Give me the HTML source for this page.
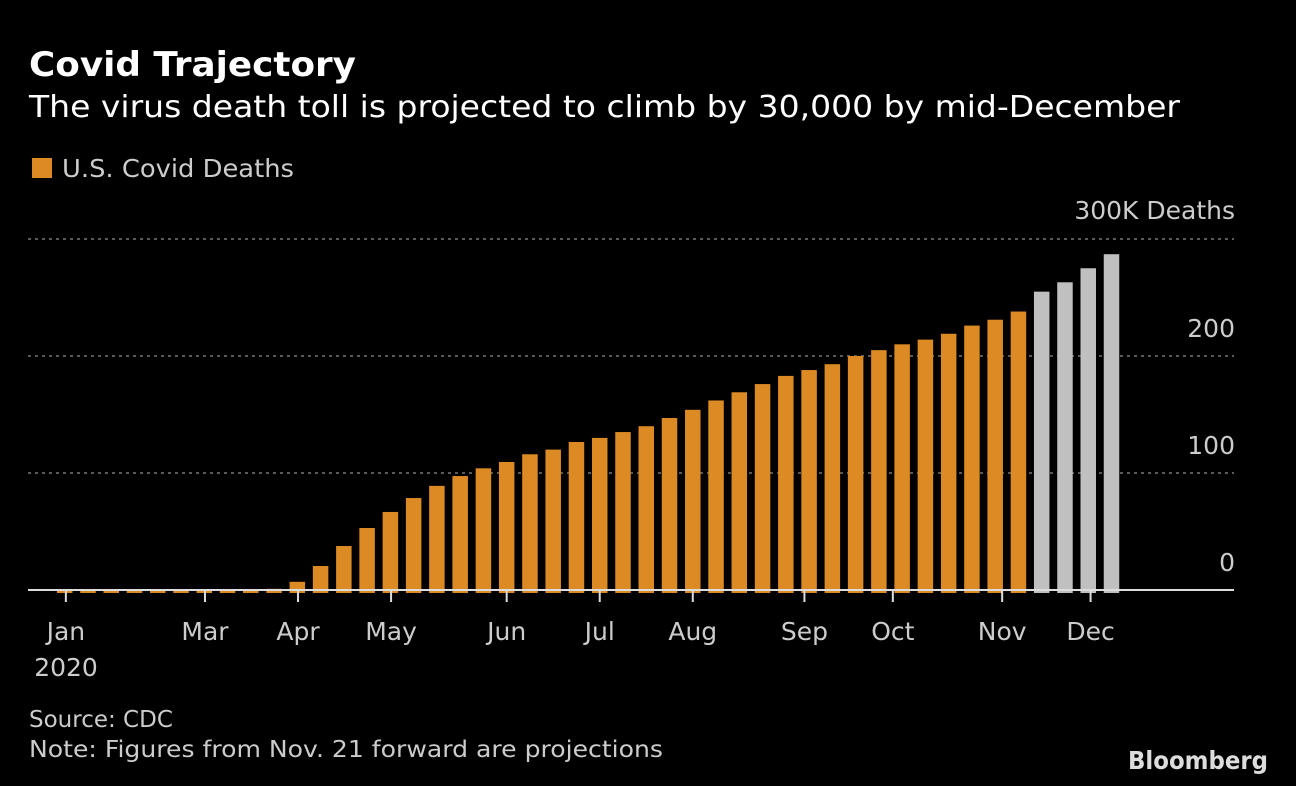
<!DOCTYPE html>
<html><head><meta charset="utf-8"><style>
html,body{margin:0;padding:0;background:#000;}
svg{display:block;font-family:"DejaVu Sans","Liberation Sans",sans-serif;}
</style></head><body>
<svg id="chart" width="1296" height="786" viewBox="0 0 1296 786">
<rect width="1296" height="786" fill="#000"/>
<text x="29" y="76" font-size="34" font-weight="bold" fill="#fff" textLength="327" lengthAdjust="spacingAndGlyphs">Covid Trajectory</text>
<text x="29" y="117" font-size="30" fill="#fff" textLength="1151" lengthAdjust="spacingAndGlyphs">The virus death toll is projected to climb by 30,000 by mid-December</text>
<rect x="32" y="158" width="20" height="20" fill="#dc8a24"/>
<text x="62" y="177" font-size="25" fill="#ccc" textLength="232" lengthAdjust="spacingAndGlyphs">U.S. Covid Deaths</text>
<text x="1235" y="219" font-size="25" fill="#ccc" text-anchor="end">300K Deaths</text>
<g id="grid"></g><g id="bars"></g><g id="xaxis"></g>
<text x="29" y="727" font-size="23" fill="#ccc">Source: CDC</text>
<text x="29" y="757" font-size="23" fill="#ccc" textLength="634" lengthAdjust="spacingAndGlyphs">Note: Figures from Nov. 21 forward are projections</text>
<text x="1268" y="769" font-size="25" font-weight="bold" fill="#ddd" text-anchor="end" textLength="140" lengthAdjust="spacingAndGlyphs">Bloomberg</text>
</svg>
<script>
const actualDeaths = [0.3,0.3,0.3,0.3,0.3,0.3,0.3,0.3,0.3,1,7,20.5,37.6,53,66.7,78.6,89,97.4,104,109.4,116,120,126.5,130,135,140,147,154,162,169,176,183,188,193,200,205,210,214,219,226,231,238];
const projectedDeaths = [255,263,275,287];
const yTicks = [0,100,200];
const yGridValues = [100,200,300];
const monthLabels = ["Jan","Mar","Apr","May","Jun","Jul","Aug","Sep","Oct","Nov","Dec"];
const monthWeekIndex = [0.05,6.03,10.03,14.03,19,23,27,31.8,35.6,40.3,44.1];

const NS="http://www.w3.org/2000/svg";
const total = actualDeaths.length + projectedDeaths.length;
const y0=590, pxPer=1.17;
const yScale = v => y0 - v*pxPer;
const firstCenter=64.7, step=(1111.5-64.7)/(total-1), bw=15.5;
const xScale = i => firstCenter + i*step;
function mk(tag, attrs, parent){const e=document.createElementNS(NS,tag);for(const k in attrs)e.setAttribute(k,attrs[k]);parent.appendChild(e);return e;}
const grid=document.getElementById('grid'), bars=document.getElementById('bars'), xa=document.getElementById('xaxis');
yGridValues.forEach(v=>{
  const l=mk('line',{x1:28,x2:1234,y1:yScale(v),y2:yScale(v),stroke:'#777','stroke-width':1.5,'stroke-dasharray':'3 4'},grid);
  
  
});
yTicks.forEach(v=>{
  const t=mk('text',{x:1235,y:yScale(v)-19,'font-size':25,fill:'#ccc','text-anchor':'end'},grid);
  t.textContent=v;
  
  
});
const all=actualDeaths.concat(projectedDeaths);
all.forEach((v,i)=>{
  const proj=i>=actualDeaths.length;
  const top=Math.min(yScale(v), y0-1);
  const r=mk('rect',{x:xScale(i)-bw/2,y:top,width:bw,height:(y0+3)-top,fill:proj?'#c0c0c0':'#dc8a24'},bars);
  
  
});
const ax=mk('line',{x1:28,x2:1234,y1:y0,y2:y0,stroke:'#ddd','stroke-width':2},xa);


monthLabels.forEach((m,k)=>{
  const x=xScale(monthWeekIndex[k]);
  const tk=mk('line',{x1:x,x2:x,y1:y0,y2:y0+12,stroke:'#ddd','stroke-width':2},xa);
  
  
  const t=mk('text',{x:x,y:640,'font-size':25,fill:'#ccc','text-anchor':'middle'},xa);
  t.textContent=m;
  
  
});
const yr=mk('text',{x:66,y:676,'font-size':25,fill:'#ccc','text-anchor':'middle'},xa);
yr.textContent='2020';


</script>
</body></html>
